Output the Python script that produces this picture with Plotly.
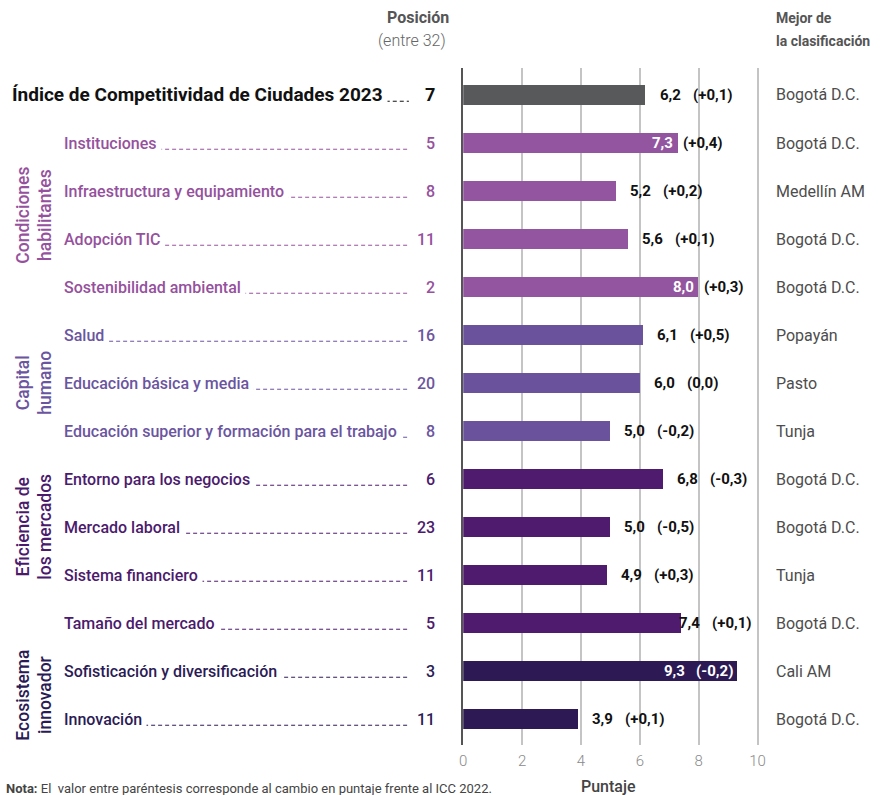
import plotly.graph_objects as go

# ---------------- data ----------------
categories = [
    "Índice de Competitividad de Ciudades 2023",
    "Instituciones",
    "Infraestructura y equipamiento",
    "Adopción TIC",
    "Sostenibilidad ambiental",
    "Salud",
    "Educación básica y media",
    "Educación superior y formación para el trabajo",
    "Entorno para los negocios",
    "Mercado laboral",
    "Sistema financiero",
    "Tamaño del mercado",
    "Sofisticación y diversificación",
    "Innovación",
]
groups = ["total", "cond", "cond", "cond", "cond", "cap", "cap", "cap",
          "efi", "efi", "efi", "efi", "eco", "eco"]
positions = [7, 5, 8, 11, 2, 16, 20, 8, 6, 23, 11, 5, 3, 11]
scores = [6.2, 7.3, 5.2, 5.6, 8.0, 6.1, 6.0, 5.0, 6.8, 5.0, 4.9, 7.4, 9.3, 3.9]
changes = [0.1, 0.4, 0.2, 0.1, 0.3, 0.5, 0.0, -0.2, -0.3, -0.5, 0.3, 0.1, -0.2, 0.1]
best = ["Bogotá D.C.", "Bogotá D.C.", "Medellín AM", "Bogotá D.C.", "Bogotá D.C.",
        "Popayán", "Pasto", "Tunja", "Bogotá D.C.", "Bogotá D.C.", "Tunja",
        "Bogotá D.C.", "Cali AM", "Bogotá D.C."]
group_names = {
    "cond": "Condiciones<br>habilitantes",
    "cap": "Capital<br>humano",
    "efi": "Eficiencia de<br>los mercados",
    "eco": "Ecosistema<br>innovador",
}
x_ticks = [0, 2, 4, 6, 8, 10]

# ---------------- style ----------------
W, H = 887, 795
FONT = "Roboto"
bar_colors = {"total": "#58595b", "cond": "#9455a0", "cap": "#6a529c",
              "efi": "#4e1b6e", "eco": "#2d1a55"}
text_colors = {"total": "#111111", "cond": "#95519d", "cap": "#6b55a0",
               "efi": "#4b1a6d", "eco": "#2b1b55"}
group_center_rows = {"cond": 2.5, "cap": 6.0, "efi": 9.0, "eco": 12.5}
label_modes = {1: "in", 4: "in", 11: "tight", 12: "both_in"}


def px(x):
    return x / W


def py(y):
    return 1 - y / H


def fmt(v):
    return f"{v:.1f}".replace(".", ",")


def fmt_change(v):
    if abs(v) < 1e-9:
        return "(0,0)"
    return "(" + ("+" if v > 0 else "-") + fmt(abs(v)) + ")"


rows = list(range(len(categories)))

fig = go.Figure()
fig.add_trace(go.Bar(
    x=scores, y=rows, orientation="h", width=0.42,
    marker=dict(color=[bar_colors[g] for g in groups], line=dict(width=0)),
    hoverinfo="skip",
))

annotations = []
shapes = []

# plot geometry (window pixels)
x0_px, x10_px = 465, 763
top_px, bot_px = 68, 745
unit = (x10_px - x0_px) / 10.0
xmax = 10.06
row_h = 48.0
ytop = -(95 - top_px) / row_h
ybot = 13 + (bot_px - 719) / row_h

for i in rows:
    g = groups[i]
    tc = text_colors[g]
    is_total = g == "total"
    lx = 8 if is_total else 61
    # leader line
    shapes.append(dict(type="line", xref="paper", yref="y",
                       x0=px(lx + 10), x1=px(410), y0=i + 0.13, y1=i + 0.13,
                       line=dict(color=tc, width=1, dash="4px,3px"), layer="above"))
    # category label with white background covering the leader
    annotations.append(dict(
        x=px(lx), y=i, xref="paper", yref="y", xanchor="left", yanchor="middle",
        text=categories[i],
        showarrow=False, bgcolor="white", borderpad=4, xshift=-5,
        font=dict(family=FONT, size=19 if is_total else 16, color=tc,
                  weight=700 if is_total else 500),
    ))
    # rank
    annotations.append(dict(
        x=px(438), y=i, xref="paper", yref="y", xanchor="right", yanchor="middle",
        text=str(positions[i]),
        showarrow=False,
        font=dict(family=FONT, size=18 if is_total else 16, color=tc,
                  weight=700 if is_total else 500),
    ))
    # value labels
    mode = label_modes.get(i, "out")
    s_txt = f"<b>{fmt(scores[i])}</b>"
    c_txt = f"<b>{fmt_change(changes[i])}</b>"
    vfont = dict(family=FONT, size=15, color="#111111")
    wfont = dict(family=FONT, size=15, color="#ffffff")
    if mode == "out":
        annotations.append(dict(x=scores[i], y=i, xref="x", yref="y", xanchor="left",
                                text=s_txt, showarrow=False, xshift=12, font=vfont))
        annotations.append(dict(x=scores[i], y=i, xref="x", yref="y", xanchor="left",
                                text=c_txt, showarrow=False, xshift=45, font=vfont))
    elif mode == "tight":
        annotations.append(dict(x=scores[i], y=i, xref="x", yref="y", xanchor="left",
                                text=s_txt, showarrow=False, xshift=-4, font=vfont))
        annotations.append(dict(x=scores[i], y=i, xref="x", yref="y", xanchor="left",
                                text=c_txt, showarrow=False, xshift=29, font=vfont))
    elif mode == "in":
        annotations.append(dict(x=scores[i], y=i, xref="x", yref="y", xanchor="right",
                                text=s_txt, showarrow=False, xshift=-3, font=wfont))
        annotations.append(dict(x=scores[i], y=i, xref="x", yref="y", xanchor="left",
                                text=c_txt, showarrow=False, xshift=3, font=vfont))
    else:
        annotations.append(dict(x=scores[i], y=i, xref="x", yref="y", xanchor="right",
                                text=s_txt + "&nbsp;&nbsp;&nbsp;" + c_txt, showarrow=False,
                                xshift=-2, font=wfont))
    # best city
    annotations.append(dict(
        x=px(780), y=i, xref="paper", yref="y", xanchor="left", yanchor="middle",
        text=best[i], showarrow=False,
        font=dict(family=FONT, size=16, color="#4d4d4d"),
    ))

# group labels (rotated)
for g, name in group_names.items():
    annotations.append(dict(
        x=px(30), y=group_center_rows[g], xref="paper", yref="y",
        xanchor="center", yanchor="middle", text=name, textangle=-90,
        showarrow=False, align="center",
        font=dict(family=FONT, size=17.5, color=text_colors[g], weight=500),
    ))

# headers
annotations += [
    dict(x=px(419), y=py(18), xref="paper", yref="paper", xanchor="center", yanchor="middle",
         text="Posición", showarrow=False,
         font=dict(family=FONT, size=16, color="#555555", weight=700)),
    dict(x=px(413), y=py(41), xref="paper", yref="paper", xanchor="center", yanchor="middle",
         text="(entre 32)", showarrow=False,
         font=dict(family=FONT, size=16, color="#666666", weight=300)),
    dict(x=px(780), y=py(18), xref="paper", yref="paper", xanchor="left", yanchor="middle",
         text="Mejor de", showarrow=False,
         font=dict(family=FONT, size=14, color="#555555", weight=700)),
    dict(x=px(780), y=py(41), xref="paper", yref="paper", xanchor="left", yanchor="middle",
         text="la clasificación", showarrow=False,
         font=dict(family=FONT, size=14, color="#555555", weight=700)),
    dict(x=px(612), y=py(786), xref="paper", yref="paper", xanchor="center", yanchor="middle",
         text="Puntaje", showarrow=False,
         font=dict(family=FONT, size=16, color="#444444", weight=500)),
    dict(x=0, y=py(788), xref="paper", yref="paper", xanchor="left", yanchor="middle",
         text="<b>Nota:</b> El  valor entre paréntesis corresponde al cambio en puntaje frente al ICC 2022.",
         showarrow=False, font=dict(family=FONT, size=13, color="#444444")),
]

fig.update_layout(
    width=W, height=H,
    margin=dict(l=0, r=0, t=0, b=0),
    paper_bgcolor="white", plot_bgcolor="white",
    showlegend=False,
    bargap=0,
    font=dict(family=FONT),
    xaxis=dict(
        domain=[px(x0_px), px(x0_px + xmax * unit)],
        range=[0, xmax], tickvals=x_ticks, ticktext=[str(t) for t in x_ticks],
        showgrid=True, gridcolor="#c4c4c4", gridwidth=1.5,
        zeroline=False, showline=False, ticks="", ticklabelstandoff=5,
        tickfont=dict(family=FONT, size=15, color="#8a8a8a", weight=300),
        fixedrange=True,
    ),
    yaxis=dict(
        domain=[py(bot_px), py(top_px)],
        range=[ybot, ytop], showticklabels=False, ticks="",
        showgrid=False, zeroline=False,
        showline=True, linecolor="#555555", linewidth=2,
        fixedrange=True,
    ),
    annotations=annotations,
    shapes=shapes,
)

fig.write_html(
    "out.html",
    config={"displayModeBar": False},
    post_script="document.body.style.margin='0';document.body.style.overflow='hidden';",
)
